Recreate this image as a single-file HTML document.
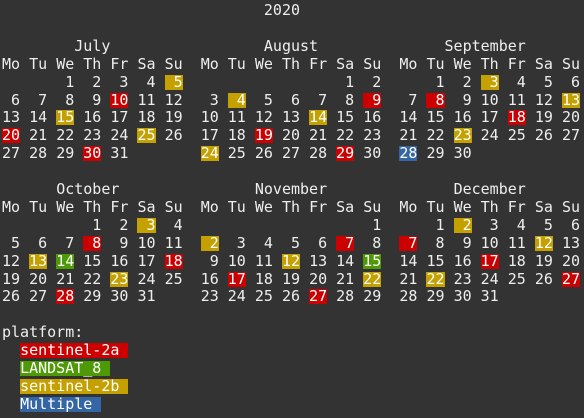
<!DOCTYPE html>
<html><head><meta charset="utf-8"><style>
html,body{margin:0;padding:0;background:#333333;}
#term{position:relative;width:584px;height:418px;overflow:hidden;background:#333333;color:#eeeeec;font-family:"DejaVu Sans Mono","Liberation Mono",monospace;font-size:15px;}
.ln{position:absolute;left:2px;white-space:pre;height:18px;line-height:18px;}
.hl{display:inline-block;height:15px;line-height:15px;color:#ffffff;}
</style></head><body>
<div id="term"></div>
<script>
const year = 2020;
const monthNames = ["July","August","September","October","November","December"];
const monthIndex = [6,7,8,9,10,11];
const platforms = ["sentinel-2a","LANDSAT_8","sentinel-2b","Multiple"];
const platformColors = ["#cc0000","#4e9a06","#c4a000","#3465a4"];
const s2aDays = ["2020-07-10","2020-07-20","2020-07-30","2020-08-09","2020-08-19","2020-08-29","2020-09-08","2020-09-18","2020-10-08","2020-10-18","2020-10-28","2020-11-07","2020-11-17","2020-11-27","2020-12-07","2020-12-17","2020-12-27"];
const l8Days = ["2020-10-14","2020-11-15"];
const s2bDays = ["2020-07-05","2020-07-15","2020-07-25","2020-08-04","2020-08-14","2020-08-24","2020-09-03","2020-09-13","2020-09-23","2020-10-03","2020-10-13","2020-10-23","2020-11-02","2020-11-12","2020-11-22","2020-12-02","2020-12-12","2020-12-22"];
const multiDays = ["2020-09-28"];
const dayHeads = ["Mo","Tu","We","Th","Fr","Sa","Su"];

const term = document.getElementById('term');
const LH = 17.9, TOP = 1;
const lines = [];
function line(n){
  if(!lines[n]){
    const d = document.createElement('div');
    d.className='ln';
    d.style.top = (TOP + LH*n) + 'px';
    term.appendChild(d);
    lines[n] = d;
  }
  return lines[n];
}
function pad(n){return n<10?'0'+n:''+n;}
function colorFor(key){
  const sets=[s2aDays,l8Days,s2bDays,multiDays];
  for(let i=0;i<sets.length;i++) if(sets[i].includes(key)) return platformColors[i];
  return null;
}
const rows = {};
function put(n, col, text, color, name){
  (rows[n] = rows[n] || []).push({col, text, color, name});
}
put(0, 29, String(year), null, 'year-title');
monthNames.forEach((m, mi) => {
  const block = Math.floor(mi/3), c0 = (mi%3)*22;
  const base = block*8 + 2;
  put(base, c0 + Math.floor((20 - m.length)/2), m, null, 'month-title');
  dayHeads.forEach((h,i)=>put(base+1, c0 + i*3, h, null, 'weekday-header'));
  const mo = monthIndex[mi];
  const first = (new Date(year, mo, 1).getDay() + 6) % 7;
  const ndays = new Date(year, mo+1, 0).getDate();
  for(let d=1; d<=ndays; d++){
    const pos = first + d - 1;
    const r = Math.floor(pos/7), wd = pos%7;
    if(r > 4) continue;
    const key = year+'-'+pad(mo+1)+'-'+pad(d);
    put(base+2+r, c0 + wd*3, (d<10?' ':'')+d, colorFor(key), 'day-cell');
  }
});
put(18, 0, 'platform:', null, 'legend-title');
platforms.forEach((p,i)=>put(19+i, 2, p+' ', platformColors[i], 'legend-entry'));

Object.keys(rows).forEach(k=>{
  const n = +k, div = line(n);
  const cells = rows[k].sort((a,b)=>a.col-b.col);
  let cur = 0;
  cells.forEach(c=>{
    if(c.col>cur){ div.appendChild(document.createTextNode(' '.repeat(c.col-cur))); }
    const sp = document.createElement('span');
    sp.textContent = c.text;
    if(c.color){ sp.className='hl'; sp.style.background=c.color; }
    
    
    div.appendChild(sp);
    cur = c.col + c.text.length;
  });
});
</script>
</body></html>
